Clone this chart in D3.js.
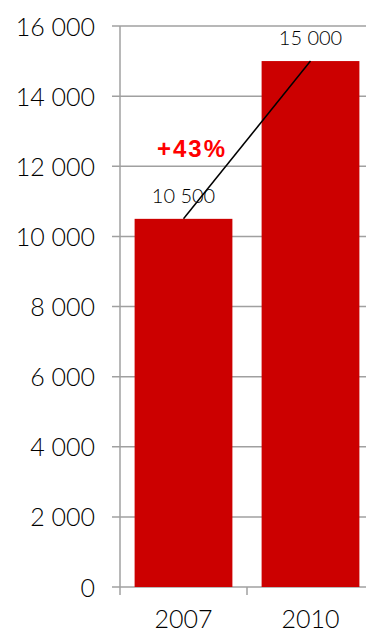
<!DOCTYPE html>
<html>
<head>
<meta charset="utf-8">
<script src="https://cdn.jsdelivr.net/npm/d3@7"></script>
<style>
  html, body { margin: 0; padding: 0; background: #fff; }
  svg { display: block; }
  text { font-family: "Lato", "DejaVu Sans", sans-serif; font-weight: 300; fill: #000; }
</style>
</head>
<body>
<svg id="chart" width="366" height="632"></svg>
<script>
// Chart data
const categories = ["2007", "2010"];
const values = [10500, 15000];
const valueLabels = ["10 500", "15 000"];
const yTicks = [0, 2000, 4000, 6000, 8000, 10000, 12000, 14000, 16000];
const yTickLabels = ["0", "2 000", "4 000", "6 000", "8 000", "10 000", "12 000", "14 000", "16 000"];
const growthLabel = "+43%";

(function () {
  const svg = d3.select("#chart");
  const plotLeft = 120, plotRight = 374, plotTop = 26, plotBottom = 587;

  const y = d3.scaleLinear().domain([0, 16000]).range([plotBottom, plotTop]);
  const x = d3.scaleBand().domain(categories).range([plotLeft, plotRight]).paddingInner(0.23).paddingOuter(0.115);
  const xBoundary = d3.scaleBand().domain(categories).range([plotLeft, plotRight]);

  const grid = "#a0a0a0";

  // Horizontal gridlines with left tick stubs
  svg.append("g").selectAll("line").data(yTicks).join("line")
    .attr("x1", plotLeft - 8).attr("x2", 366)
    .attr("y1", d => y(d)).attr("y2", d => y(d))
    .attr("stroke", grid).attr("stroke-width", 1.5);

  // Y tick labels
  svg.append("g").selectAll("text").data(yTicks).join("text")
    .attr("x", 95).attr("y", d => y(d) + 9.5)
    .attr("text-anchor", "end")
    .attr("font-size", 25)
    .text((d, i) => yTickLabels[i]);

  // Bars
  svg.append("g").selectAll("rect").data(values).join("rect")
    .attr("x", (d, i) => x(categories[i]))
    .attr("width", x.bandwidth())
    .attr("y", d => y(d))
    .attr("height", d => y(0) - y(d))
    .attr("fill", "#cc0000");

  // Vertical axis line
  svg.append("line")
    .attr("x1", plotLeft).attr("x2", plotLeft)
    .attr("y1", plotTop).attr("y2", plotBottom + 8)
    .attr("stroke", grid).attr("stroke-width", 1.5);

  // Category boundary ticks under the baseline
  svg.append("g").selectAll("line").data(categories.slice(1)).join("line")
    .attr("x1", d => xBoundary(d)).attr("x2", d => xBoundary(d))
    .attr("y1", plotBottom).attr("y2", plotBottom + 8)
    .attr("stroke", grid).attr("stroke-width", 1.5);

  // Category labels
  svg.append("g").selectAll("text").data(categories).join("text")
    .attr("x", d => x(d) + x.bandwidth() / 2)
    .attr("y", 628)
    .attr("text-anchor", "middle")
    .attr("font-size", 25)
    .text(d => d);

  // Growth line between bar tops
  const cx = (i) => x(categories[i]) + x.bandwidth() / 2;
  svg.append("line")
    .attr("x1", cx(0)).attr("y1", y(values[0]))
    .attr("x2", cx(1)).attr("y2", y(values[1]))
    .attr("stroke", "#000").attr("stroke-width", 1.5);

  // Value labels
  svg.append("g").selectAll("text").data(values).join("text")
    .attr("x", (d, i) => cx(i))
    .attr("y", d => y(d) - 16)
    .attr("text-anchor", "middle")
    .attr("font-size", 20)
    .text((d, i) => valueLabels[i]);

  // Growth label
  svg.append("text")
    .attr("x", 192).attr("y", 157)
    .attr("text-anchor", "middle")
    .attr("font-size", 24)
    .attr("letter-spacing", 2)
    .style("font-family", "'Liberation Sans', Arial, sans-serif")
    .style("font-weight", "bold")
    .style("fill", "#ff0000")
    .text(growthLabel);
})();
</script>
</body>
</html>
